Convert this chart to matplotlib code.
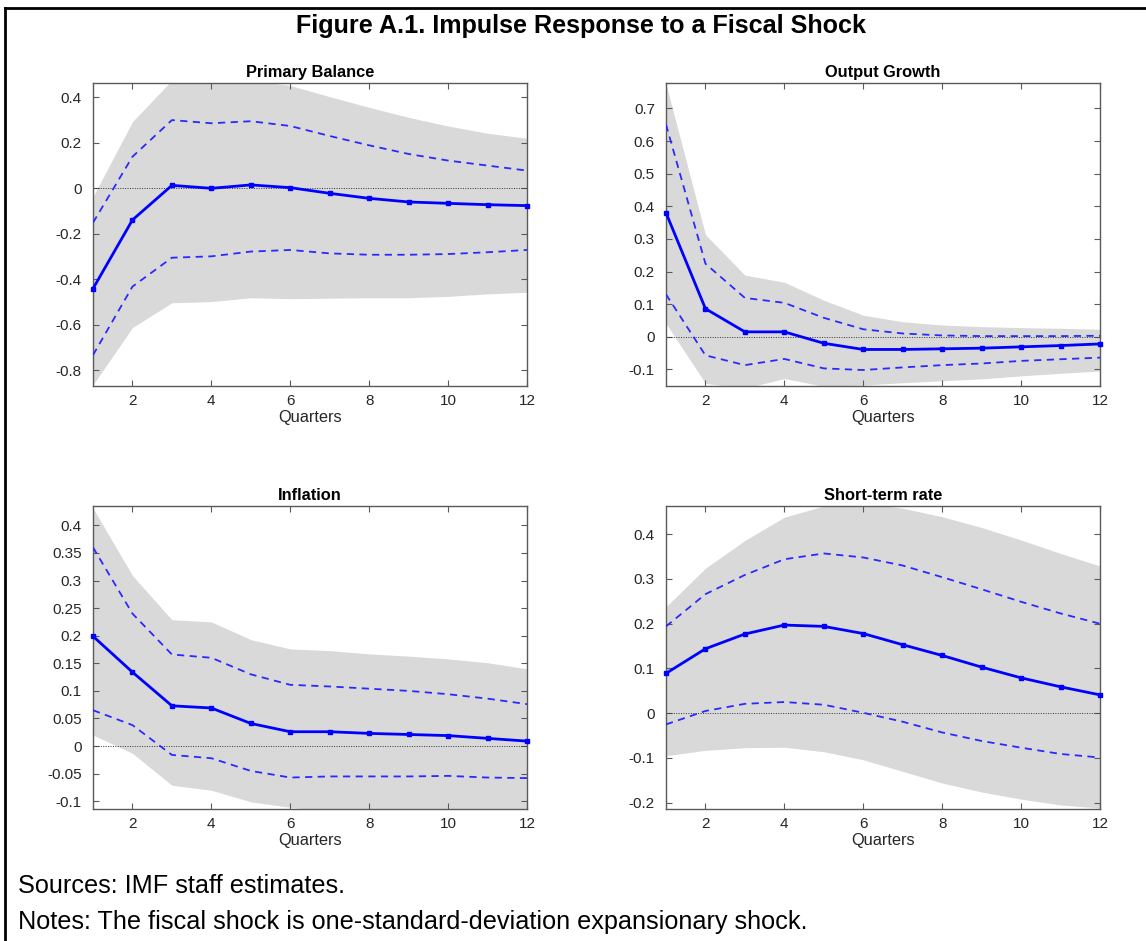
import numpy as np
import matplotlib
matplotlib.use("Agg")
import matplotlib.pyplot as plt
from matplotlib.lines import Line2D
from matplotlib.ticker import FormatStrFormatter

plt.rcParams["font.family"] = ["Liberation Sans", "DejaVu Sans"]
plt.rcParams["axes.unicode_minus"] = False

quarters = list(range(1, 13))

# Primary Balance
pb_mid    = [-0.441, -0.139, 0.013, 0.000, 0.015, 0.003, -0.022, -0.044, -0.060, -0.066, -0.072, -0.076]
pb_hi     = [-0.151, 0.139, 0.300, 0.286, 0.295, 0.274, 0.230, 0.189, 0.151, 0.122, 0.100, 0.078]
pb_lo     = [-0.733, -0.432, -0.305, -0.299, -0.278, -0.271, -0.286, -0.292, -0.292, -0.289, -0.281, -0.271]
pb_band_hi = [-0.037, 0.293, 0.475, 0.480, 0.475, 0.452, 0.403, 0.356, 0.312, 0.274, 0.242, 0.220]
pb_band_lo = [-0.864, -0.612, -0.503, -0.498, -0.481, -0.485, -0.483, -0.481, -0.481, -0.475, -0.464, -0.457]

# Output Growth
og_mid    = [0.380, 0.086, 0.015, 0.015, -0.020, -0.039, -0.039, -0.037, -0.035, -0.031, -0.027, -0.022]
og_hi     = [0.651, 0.224, 0.119, 0.104, 0.058, 0.023, 0.010, 0.004, 0.002, 0.002, 0.002, 0.003]
og_lo     = [0.130, -0.057, -0.087, -0.068, -0.097, -0.102, -0.094, -0.087, -0.082, -0.074, -0.069, -0.064]
og_band_hi = [0.775, 0.313, 0.189, 0.167, 0.112, 0.066, 0.046, 0.036, 0.031, 0.028, 0.026, 0.023]
og_band_lo = [0.041, -0.143, -0.158, -0.128, -0.152, -0.148, -0.141, -0.135, -0.129, -0.120, -0.112, -0.105]

# Inflation
inf_mid    = [0.199, 0.134, 0.073, 0.069, 0.041, 0.026, 0.026, 0.023, 0.021, 0.019, 0.014, 0.009]
inf_hi     = [0.360, 0.240, 0.166, 0.160, 0.130, 0.111, 0.108, 0.104, 0.100, 0.094, 0.086, 0.076]
inf_lo     = [0.065, 0.038, -0.016, -0.022, -0.045, -0.057, -0.055, -0.055, -0.055, -0.054, -0.057, -0.058]
inf_band_hi = [0.431, 0.309, 0.229, 0.225, 0.193, 0.176, 0.173, 0.167, 0.163, 0.158, 0.151, 0.140]
inf_band_lo = [0.020, -0.013, -0.071, -0.080, -0.101, -0.111, -0.118, -0.122, -0.124, -0.126, -0.128, -0.130]

# Short-term rate
sr_mid    = [0.089, 0.144, 0.177, 0.197, 0.194, 0.178, 0.153, 0.129, 0.103, 0.079, 0.059, 0.041]
sr_hi     = [0.194, 0.266, 0.309, 0.344, 0.357, 0.348, 0.330, 0.304, 0.277, 0.249, 0.223, 0.200]
sr_lo     = [-0.025, 0.005, 0.021, 0.025, 0.019, 0.001, -0.019, -0.043, -0.062, -0.077, -0.091, -0.099]
sr_band_hi = [0.238, 0.324, 0.386, 0.438, 0.463, 0.470, 0.458, 0.439, 0.415, 0.387, 0.357, 0.329]
sr_band_lo = [-0.095, -0.083, -0.077, -0.076, -0.086, -0.104, -0.130, -0.156, -0.176, -0.192, -0.205, -0.212]

panels = [
    ("Primary Balance", pb_mid, pb_hi, pb_lo, pb_band_hi, pb_band_lo, (-0.869, 0.463), [-0.8, -0.6, -0.4, -0.2, 0, 0.2, 0.4]),
    ("Output Growth", og_mid, og_hi, og_lo, og_band_hi, og_band_lo, (-0.151, 0.778), [-0.1, 0, 0.1, 0.2, 0.3, 0.4, 0.5, 0.6, 0.7]),
    ("Inflation", inf_mid, inf_hi, inf_lo, inf_band_hi, inf_band_lo, (-0.114, 0.435), [-0.1, -0.05, 0, 0.05, 0.1, 0.15, 0.2, 0.25, 0.3, 0.35, 0.4]),
    ("Short-term rate", sr_mid, sr_hi, sr_lo, sr_band_hi, sr_band_lo, (-0.214, 0.463), [-0.2, -0.1, 0, 0.1, 0.2, 0.3, 0.4]),
]

W, H = 1146, 941
fig = plt.figure(figsize=(W / 100, H / 100), dpi=100)
renderer = fig.canvas.get_renderer()


def fit(t, width_px):
    # scale font so the text spans the width measured on the reference
    w = t.get_window_extent(renderer).width
    t.set_fontsize(t.get_fontsize() * width_px / w)
    return t.get_fontsize()


# axes boxes in pixels: left, top, right, bottom
boxes = [(93, 83, 527, 386), (666, 83, 1100, 386), (93, 506, 527, 809), (666, 506, 1100, 809)]

edge = "#5a5a5a"
txt = "#262626"
title_size = None
label_size = None
for (title, mid, hi, lo, bhi, blo, ylim, yt), (l, t, r, b) in zip(panels, boxes):
    ax = fig.add_axes([l / W, 1 - b / H, (r - l) / W, (b - t) / H])
    ax.fill_between(quarters, blo, bhi, color="#d9d9d9", linewidth=0, zorder=1)
    ax.axhline(0, color="#333333", linestyle=(0, (1, 1.5)), linewidth=0.7, zorder=2)
    ax.plot(quarters, hi, color="#2a2aff", linestyle=(0, (4, 3)), linewidth=1.3, zorder=3)
    ax.plot(quarters, lo, color="#2a2aff", linestyle=(0, (4, 3)), linewidth=1.3, zorder=3)
    ax.plot(quarters, mid, color="#0000ff", linewidth=2, marker="s", markersize=3.5, zorder=4, clip_on=False)
    ax.set_xlim(1, 12)
    ax.set_ylim(*ylim)
    ax.set_xticks([2, 4, 6, 8, 10, 12])
    ax.set_yticks(yt)
    ax.yaxis.set_major_formatter(FormatStrFormatter("%g"))
    ax.tick_params(direction="in", length=4, width=0.8, color=edge, labelcolor=txt,
                   labelsize=11, top=True, right=True)
    ax.tick_params(axis="y", pad=8)
    ax.tick_params(axis="x", pad=6)
    for s in ax.spines.values():
        s.set_color(edge)
        s.set_linewidth(1)
    ttl = ax.set_title(title, fontsize=10, fontweight="bold", color="black", pad=4)
    if title_size is None:
        title_size = fit(ttl, 128)
    ttl.set_fontsize(title_size)
    xl = ax.set_xlabel("Quarters", fontsize=11, color=txt, labelpad=1)
    if label_size is None:
        label_size = fit(xl, 64)
    xl.set_fontsize(label_size)

ft = fig.text(581 / W, 1 - 26 / H, "Figure A.1. Impulse Response to a Fiscal Shock",
              ha="center", va="center", fontsize=15, fontweight="bold")
fit(ft, 574)
nt = fig.text(18 / W, 1 - 922 / H, "Notes: The fiscal shock is one-standard-deviation expansionary shock.",
              ha="left", va="center", fontsize=17)
notes_size = fit(nt, 792)
fig.text(18 / W, 1 - 886 / H, "Sources: IMF staff estimates.", ha="left", va="center", fontsize=notes_size)

# frame around the figure
fig.add_artist(Line2D([5 / W, 1], [1 - 8 / H, 1 - 8 / H], color="black", linewidth=2, transform=fig.transFigure))
fig.add_artist(Line2D([5 / W, 5 / W], [1 - 8 / H, 0], color="black", linewidth=2, transform=fig.transFigure))

fig.savefig("out.png", dpi=100)
